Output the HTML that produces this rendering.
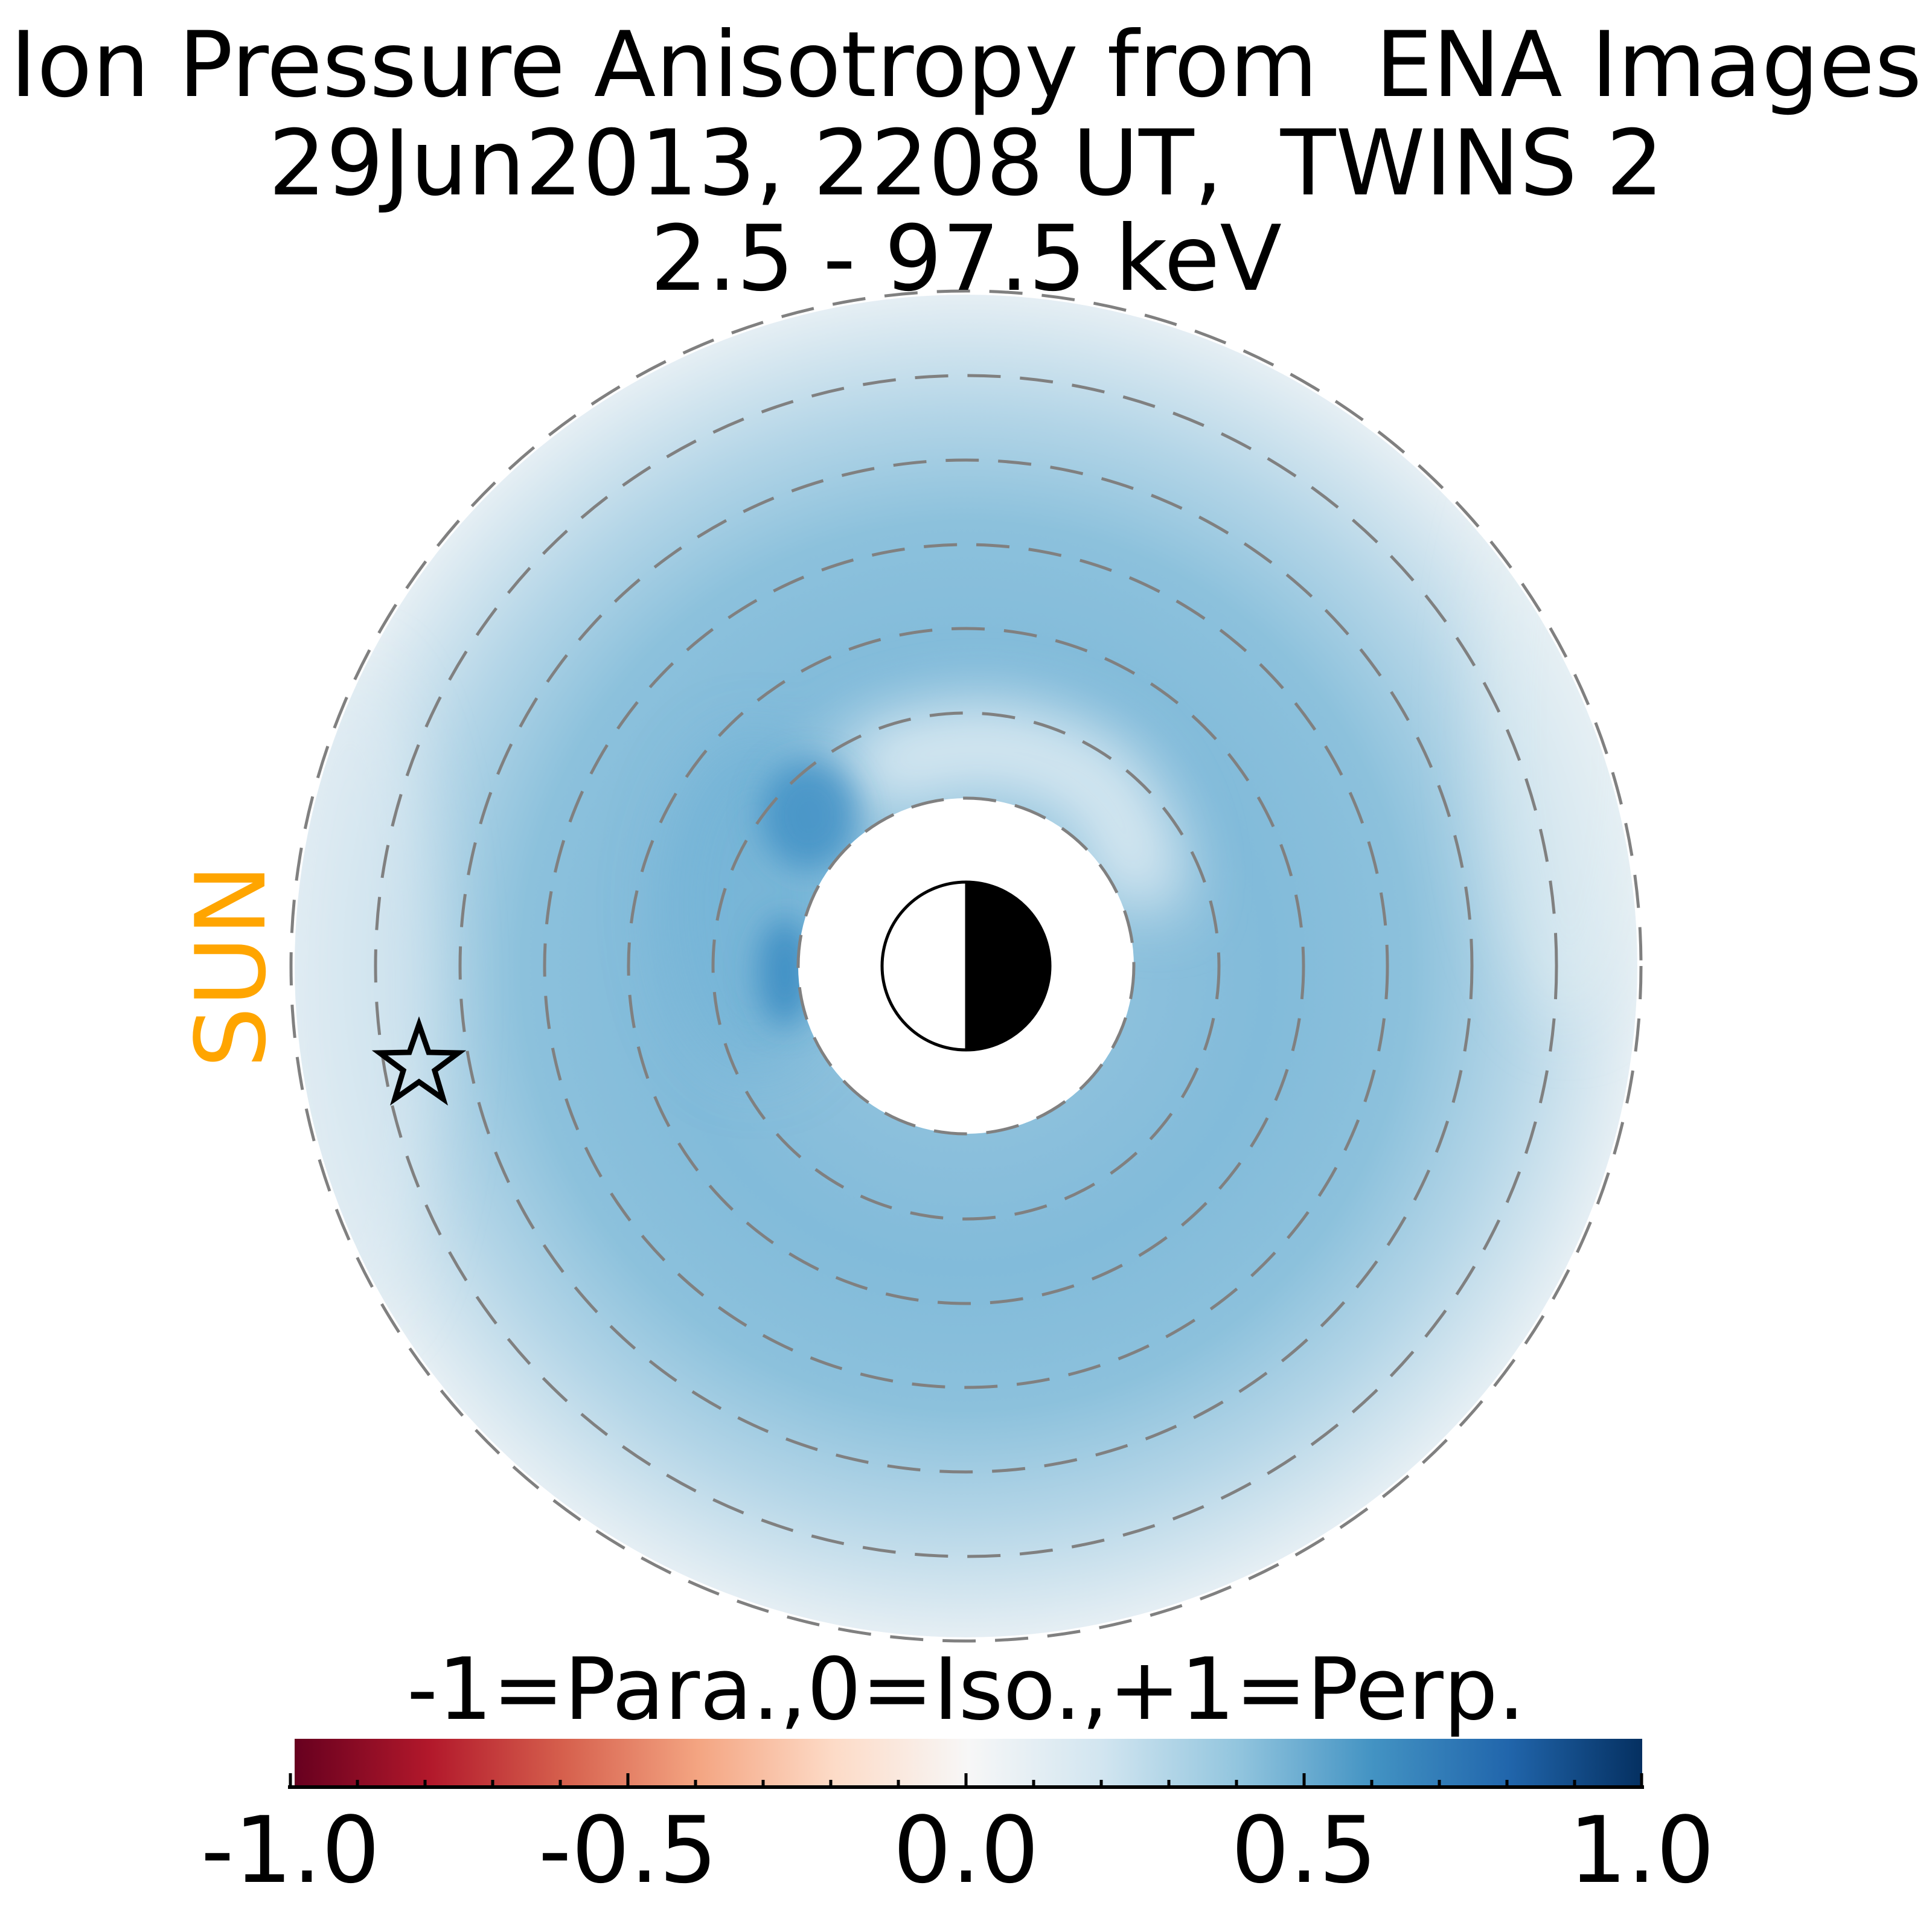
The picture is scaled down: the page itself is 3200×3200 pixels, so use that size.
<!DOCTYPE html>
<html><head><meta charset="utf-8"><style>
html,body{margin:0;padding:0;background:#fff;}
svg{display:block;}
text{font-family:"DejaVu Sans","Liberation Sans",sans-serif;}
</style></head><body>
<svg width="3200" height="3200" viewBox="0 0 3200 3200" xmlns="http://www.w3.org/2000/svg">
<defs>
<radialGradient id="rg" cx="1600" cy="1600" r="1115" gradientUnits="userSpaceOnUse">
<stop offset="0.25" stop-color="#8cc0dc"/>
<stop offset="0.45" stop-color="#82bbda"/>
<stop offset="0.66" stop-color="#8cc1dc"/>
<stop offset="0.82" stop-color="#b3d5e7"/>
<stop offset="1" stop-color="#e6eff4"/>
</radialGradient>
<filter id="bl" x="-50%" y="-50%" width="200%" height="200%"><feGaussianBlur stdDeviation="50"/></filter>
<filter id="bl2" x="-50%" y="-50%" width="200%" height="200%"><feGaussianBlur stdDeviation="25"/></filter>
<linearGradient id="cb" x1="0" y1="0" x2="1" y2="0">
<stop offset="0" stop-color="#67001f"/>
<stop offset="0.1" stop-color="#b2182b"/>
<stop offset="0.2" stop-color="#d6604d"/>
<stop offset="0.3" stop-color="#f4a582"/>
<stop offset="0.4" stop-color="#fddbc7"/>
<stop offset="0.5" stop-color="#f7f7f7"/>
<stop offset="0.6" stop-color="#d1e5f0"/>
<stop offset="0.7" stop-color="#92c5de"/>
<stop offset="0.8" stop-color="#4393c3"/>
<stop offset="0.9" stop-color="#2166ac"/>
<stop offset="1" stop-color="#053061"/>
</linearGradient>
<clipPath id="disk"><circle cx="1600" cy="1600" r="1112"/></clipPath>
</defs>

<rect width="3200" height="3200" fill="#fff"/>

<g clip-path="url(#disk)">
<circle cx="1600" cy="1600" r="1112" fill="url(#rg)"/>
<g filter="url(#bl)">
<ellipse cx="580" cy="1650" rx="150" ry="550" fill="#dbe9f1" opacity="0.6"/>
<ellipse cx="2600" cy="1200" rx="150" ry="500" fill="#e6eff4" opacity="0.5"/>
<path d="M1420,1290 Q1640,1180 1820,1300 Q1900,1400 1880,1500" fill="none" stroke="#e3eef4" stroke-width="150" opacity="0.85"/>
<ellipse cx="1250" cy="1500" rx="150" ry="280" fill="#6aaed4" opacity="0.5"/>
</g>
<g filter="url(#bl2)">
<ellipse cx="1340" cy="1350" rx="80" ry="90" fill="#3f8fc4" opacity="0.8"/>
<ellipse cx="1300" cy="1610" rx="45" ry="90" fill="#3a8bc2" opacity="0.85"/>
</g>
</g>
<circle cx="1600" cy="1600" r="278" fill="#fff"/>

<g fill="none" stroke="#808080" stroke-width="5" stroke-dasharray="55 32">
<circle cx="1600" cy="1600" r="278"/>
<circle cx="1600" cy="1600" r="419"/>
<circle cx="1600" cy="1600" r="559"/>
<circle cx="1600" cy="1600" r="698"/>
<circle cx="1600" cy="1600" r="838"/>
<circle cx="1600" cy="1600" r="978"/>
<circle cx="1600" cy="1600" r="1118"/>
</g>

<!-- Earth -->
<path d="M1600,1460 A140,140 0 0,1 1600,1740 Z" fill="#000"/>
<circle cx="1600" cy="1600" r="139" fill="none" stroke="#000" stroke-width="5"/>
<line x1="1600" y1="1460" x2="1600" y2="1740" stroke="#000" stroke-width="3"/>

<!-- Star -->
<polygon points="694,1697 710,1743 759,1744 720,1773 734,1820 694,1792 654,1820 668,1773 629,1744 678,1743" fill="none" stroke="#000" stroke-width="9" stroke-linejoin="miter"/>

<!-- SUN -->
<text x="0" y="0" transform="translate(438,1600) rotate(-90)" font-size="160" fill="#ffa500" text-anchor="middle">SUN</text>

<!-- Title -->
<text x="1600" y="159" font-size="150" text-anchor="middle" xml:space="preserve">Ion Pressure Anisotropy from  ENA Images</text>
<text x="1600" y="322" font-size="150" text-anchor="middle" xml:space="preserve">29Jun2013, 2208 UT,  TWINS 2</text>
<text x="1600" y="480" font-size="150" text-anchor="middle">2.5 - 97.5 keV</text>

<!-- Colorbar -->
<text x="1600" y="2847" font-size="142" text-anchor="middle">-1=Para.,0=Iso.,+1=Perp.</text>
<rect x="488" y="2880" width="2232" height="78" fill="url(#cb)"/>
<line x1="477" y1="2960" x2="2723" y2="2960" stroke="#000" stroke-width="6"/>
<g stroke="#000" stroke-width="5">
<line x1="481" y1="2937" x2="481" y2="2960"/>
<line x1="1040" y1="2937" x2="1040" y2="2960"/>
<line x1="1600" y1="2937" x2="1600" y2="2960"/>
<line x1="2160" y1="2937" x2="2160" y2="2960"/>
<line x1="2719" y1="2937" x2="2719" y2="2960"/>
<line x1="592" y1="2948" x2="592" y2="2960"/>
<line x1="704" y1="2948" x2="704" y2="2960"/>
<line x1="816" y1="2948" x2="816" y2="2960"/>
<line x1="928" y1="2948" x2="928" y2="2960"/>
<line x1="1152" y1="2948" x2="1152" y2="2960"/>
<line x1="1264" y1="2948" x2="1264" y2="2960"/>
<line x1="1376" y1="2948" x2="1376" y2="2960"/>
<line x1="1488" y1="2948" x2="1488" y2="2960"/>
<line x1="1712" y1="2948" x2="1712" y2="2960"/>
<line x1="1824" y1="2948" x2="1824" y2="2960"/>
<line x1="1936" y1="2948" x2="1936" y2="2960"/>
<line x1="2048" y1="2948" x2="2048" y2="2960"/>
<line x1="2272" y1="2948" x2="2272" y2="2960"/>
<line x1="2384" y1="2948" x2="2384" y2="2960"/>
<line x1="2496" y1="2948" x2="2496" y2="2960"/>
<line x1="2608" y1="2948" x2="2608" y2="2960"/>
</g>
<g font-size="152" text-anchor="middle">
<text x="481" y="3117">-1.0</text>
<text x="1040" y="3117">-0.5</text>
<text x="1600" y="3117">0.0</text>
<text x="2160" y="3117">0.5</text>
<text x="2719" y="3117">1.0</text>
</g>
</svg>
</body></html>
